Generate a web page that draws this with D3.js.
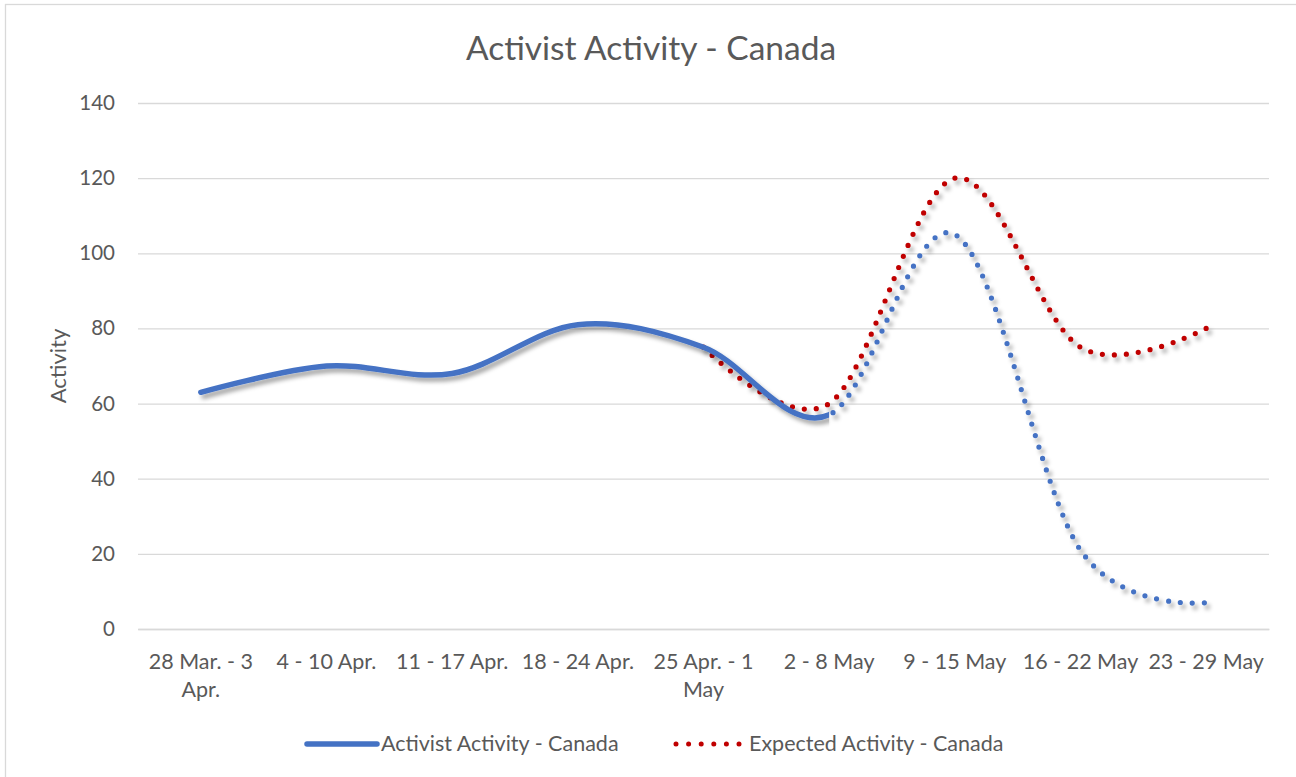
<!DOCTYPE html>
<html><head><meta charset="utf-8">
<script src="https://cdn.jsdelivr.net/npm/d3@7"></script>
<style>
body{margin:0;background:#fff}
svg{display:block}
text{font-family:Lato,"Open Sans",sans-serif;fill:#595959}
</style>
</head><body>
<svg id="chart" width="1296" height="777"></svg>
<script>
// ---- data ----
const title = "Activist Activity - Canada";
const yTitle = "Activity";
const categories = ["28 Mar. - 3 Apr.","4 - 10 Apr.","11 - 17 Apr.","18 - 24 Apr.","25 Apr. - 1 May","2 - 8 May","9 - 15 May","16 - 22 May","23 - 29 May"];
const activistValues = [63,70,68,81,75,57,105,21,7];
const expectedValues = [null,null,null,null,75,60,120,75,80];
const lastActualIndex = 5; // after this, activist line is drawn dotted (projection)
const yTicks = [0,20,40,60,80,100,120,140];
const seriesNames = ["Activist Activity - Canada","Expected Activity - Canada"];
const colors = ["#4472C4","#C00000"];

// ---- layout ----
const W = 1296, H = 777;
const plot = {left:138, right:1269, top:103, bottom:629};
const svg = d3.select("#chart");
const fs = "21.5px";

const defs = svg.append("defs");
const f = defs.append("filter").attr("id","shadow").attr("x","-10%").attr("y","-10%").attr("width","120%").attr("height","130%");
f.append("feDropShadow").attr("dx",3).attr("dy",4).attr("stdDeviation",2.2)
 .attr("flood-color","#000").attr("flood-opacity",0.35);

// outer border
svg.append("rect").attr("x",5.5).attr("y",4.5).attr("width",1300).attr("height",800)
  .attr("fill","#fff").attr("stroke","#d9d9d9").attr("stroke-width",1.3);

const x = d3.scaleBand().domain(categories).range([plot.left, plot.right]).padding(0);
const y = d3.scaleLinear().domain([0,140]).range([plot.bottom, plot.top]);
const cx = d => x(d) + x.bandwidth()/2;

// title
svg.append("text").attr("x",651).attr("y",60)
  .attr("text-anchor","middle").style("font-size","33.5px").text(title);

// gridlines + y axis
const yAxis = d3.axisLeft(y).tickValues(yTicks).tickSize(-(plot.right-plot.left)).tickPadding(23);
const gy = svg.append("g").attr("transform",`translate(${plot.left},0)`).call(yAxis);
gy.select(".domain").remove();
gy.selectAll(".tick line").attr("stroke","#d9d9d9").attr("stroke-width",1.3);
gy.selectAll(".tick text").style("font-size","20.5px").style("font-family","Lato,'Open Sans',sans-serif").attr("fill","#595959");

// x axis labels
const xAxis = d3.axisBottom(x).tickSize(0).tickPadding(0);
const gx = svg.append("g").attr("transform",`translate(0,${plot.bottom})`).call(xAxis);
gx.select(".domain").attr("stroke","#d9d9d9").attr("stroke-width",1.3);
gx.selectAll(".tick text").style("font-size",fs).style("font-family","Lato,'Open Sans',sans-serif").attr("fill","#595959")
  .attr("dy",0).attr("y",40)
  .each(function(d){
    const t = d3.select(this);
    const words = d.split(" ");
    t.text(null);
    let line = [];
    let tsp = t.append("tspan").attr("x",0);
    for (const w of words){
      line.push(w);
      tsp.text(line.join(" "));
      if (tsp.node().getComputedTextLength() > x.bandwidth()-4 && line.length>1){
        line.pop(); tsp.text(line.join(" "));
        line=[w];
        tsp = t.append("tspan").attr("x",0).attr("dy","28px").text(w);
      }
    }
  });

// y title
svg.append("text").attr("transform",`translate(66,366) rotate(-90)`)
  .attr("text-anchor","middle").style("font-size","22px").text(yTitle);

// lines
const xSplit = cx(categories[lastActualIndex]);
defs.append("clipPath").attr("id","clipSolid").append("rect")
  .attr("x",0).attr("y",0).attr("width",xSplit).attr("height",H);
defs.append("clipPath").attr("id","clipDot").append("rect")
  .attr("x",xSplit).attr("y",0).attr("width",W-xSplit).attr("height",H);

const lineGen = d3.line()
  .defined(d => d.v !== null)
  .x(d => cx(d.c)).y(d => y(d.v))
  .curve(d3.curveCardinal.tension(0));

const actData = categories.map((c,i)=>({c, v: activistValues[i]}));
const expData = categories.map((c,i)=>({c, v: expectedValues[i]}));

// expected (red dotted)
svg.append("path").datum(expData).attr("d",lineGen)
  .attr("fill","none").attr("stroke",colors[1]).attr("stroke-width",5.2)
  .attr("stroke-linecap","round").attr("stroke-dasharray","0 12")
  .attr("filter","url(#shadow)");

// activist dotted projection
svg.append("g").attr("clip-path","url(#clipDot)")
  .append("path").datum(actData).attr("d",lineGen)
  .attr("fill","none").attr("stroke",colors[0]).attr("stroke-width",5.2)
  .attr("stroke-linecap","round").attr("stroke-dasharray","0 12")
  .attr("filter","url(#shadow)");

// activist solid
svg.append("g").attr("clip-path","url(#clipSolid)")
  .append("path").datum(actData).attr("d",lineGen)
  .attr("fill","none").attr("stroke",colors[0]).attr("stroke-width",5.5)
  .attr("stroke-linecap","round")
  .attr("filter","url(#shadow)");

// legend
const leg = svg.append("g");
const ly = 744;
leg.append("line").attr("x1",307).attr("x2",377).attr("y1",ly).attr("y2",ly)
  .attr("stroke",colors[0]).attr("stroke-width",5.5).attr("stroke-linecap","round");
leg.append("text").attr("x",381).attr("y",ly+7).style("font-size",fs).text(seriesNames[0]);
leg.append("line").attr("x1",676).attr("x2",740).attr("y1",ly).attr("y2",ly)
  .attr("stroke",colors[1]).attr("stroke-width",5).attr("stroke-linecap","round")
  .attr("stroke-dasharray","0 12.6");
leg.append("text").attr("x",749).attr("y",ly+7).style("font-size",fs).text(seriesNames[1]);
</script>
</body></html>
